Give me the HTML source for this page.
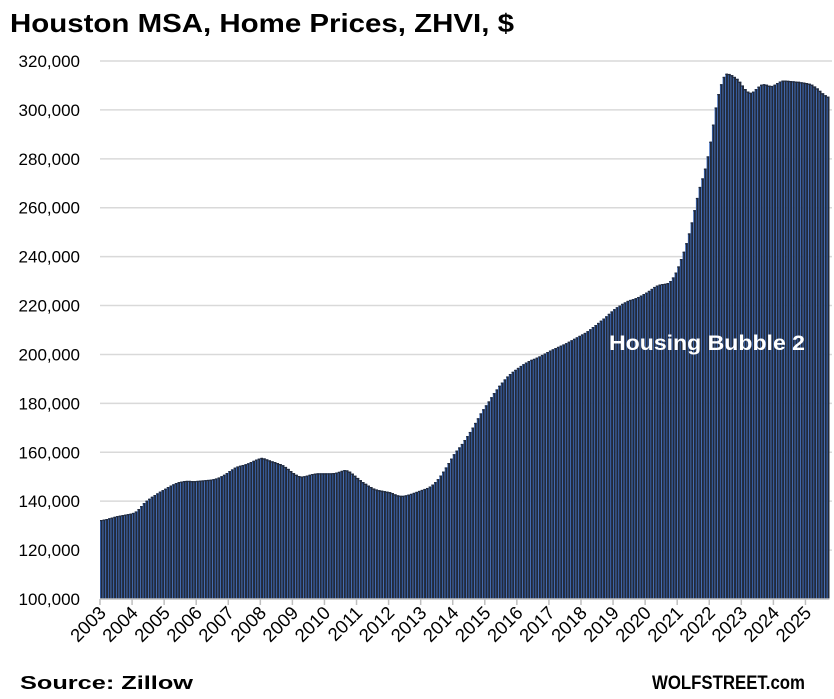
<!DOCTYPE html>
<html><head><meta charset="utf-8"><style>
body{margin:0;background:#fff;}
svg{display:block;font-family:"Liberation Sans",Calibri,sans-serif;}
</style></head><body>
<svg id="chart" width="834" height="699" viewBox="0 0 834 699">
<text x="10" y="32" font-size="26" font-weight="bold" fill="#000" textLength="504" lengthAdjust="spacingAndGlyphs">Houston MSA, Home Prices, ZHVI, $</text>
<g id="grid"></g><g id="bars"></g><g id="axes"></g>
<text x="609" y="350" font-size="21" font-weight="bold" fill="#fff" textLength="196" lengthAdjust="spacingAndGlyphs">Housing Bubble 2</text>
<text x="20" y="689" font-size="18" font-weight="bold" fill="#000" textLength="173" lengthAdjust="spacingAndGlyphs">Source: Zillow</text>
<text x="652" y="689" font-size="19" font-weight="bold" fill="#000" textLength="153" lengthAdjust="spacingAndGlyphs">WOLFSTREET.com</text>
</svg>
<script>
const yTicks=[100000,120000,140000,160000,180000,200000,220000,240000,260000,280000,300000,320000];
const years=["2003","2004","2005","2006","2007","2008","2009","2010","2011","2012","2013","2014","2015","2016","2017","2018","2019","2020","2021","2022","2023","2024","2025"];
const prices=[
132.3,132.5,132.7,133,133.3,133.6,133.9,134.1,134.3,134.5,134.7,134.9,
135.2,135.8,136.8,138,139.2,140.2,141,141.8,142.5,143.2,143.9,144.5,
145.1,145.8,146.4,146.9,147.4,147.8,148,148.2,148.3,148.3,148.2,148.2,
148.3,148.4,148.5,148.6,148.7,148.8,149,149.3,149.7,150.2,150.8,151.5,
152.3,153,153.7,154.2,154.5,154.8,155.1,155.5,156,156.5,157,157.4,
157.7,157.5,157.1,156.7,156.3,156,155.6,155.2,154.7,154,153.2,152.3,
151.5,150.8,150.3,150.1,150.2,150.5,150.8,151.1,151.3,151.4,151.4,151.4,
151.4,151.4,151.4,151.5,151.7,152,152.4,152.7,152.6,152.1,151.3,150.4,
149.5,148.6,147.8,147.1,146.4,145.8,145.2,144.8,144.5,144.3,144.1,143.9,
143.7,143.3,142.8,142.4,142.2,142.2,142.4,142.7,143,143.4,143.8,144.2,
144.6,145,145.4,146,146.8,147.8,149,150.5,152.1,153.8,155.6,157.4,
159.2,160.7,162,163.4,165,166.6,168.3,170.1,172,173.9,175.9,177.6,
179.2,180.8,182.5,184.2,185.7,187.2,188.5,189.8,191,192,192.9,193.7,
194.5,195.3,196,196.7,197.3,197.8,198.2,198.7,199.2,199.8,200.4,201,
201.6,202.1,202.6,203.1,203.6,204.1,204.6,205.2,205.8,206.4,207,207.6,
208.2,208.8,209.5,210.3,211.2,212,212.9,213.8,214.7,215.6,216.6,217.6,
218.5,219.3,220,220.7,221.3,221.9,222.3,222.6,223,223.5,224.1,224.7,
225.3,226,226.8,227.6,228.2,228.6,228.8,228.9,229.2,230,231.5,233.5,
236,239,242,245.5,249.5,254,259,264,268.5,272,276,281,
287,294,301,306.5,310.5,313.5,314.8,314.7,314.2,313.5,312.7,311.5,
310,308.5,307.5,307,307.5,308.5,309.5,310.3,310.5,310.3,309.9,309.8,
310.3,311,311.6,312,312,311.9,311.8,311.7,311.6,311.5,311.3,311.2,
311,310.7,310.3,309.6,308.8,307.8,306.8,306,305.4];
const NS="http://www.w3.org/2000/svg";
const X0=100,X1=829.5,Y0=599,YMIN=100000,YMAX=320000,YTOP=61;
const bw=(X1-X0)/prices.length;
function yScale(v){return Y0-(v-YMIN)/(YMAX-YMIN)*(Y0-YTOP);}
function xScale(i){return X0+i*bw;}
function mk(t,a,p){const e=document.createElementNS(NS,t);for(const k in a)e.setAttribute(k,a[k]);p.appendChild(e);return e;}
const grid=document.getElementById('grid'),bars=document.getElementById('bars'),axes=document.getElementById('axes');
yTicks.forEach(v=>{const y=yScale(v);
 if(v>YMIN){const l=mk('line',{x1:X0,x2:832,y1:y,y2:y,stroke:'#d9d9d9','stroke-width':1.5},grid);
 
 }
 const t=mk('text',{x:80,y:y+6,'font-size':17,'text-anchor':'end',fill:'#000'},axes);
 t.textContent=v.toLocaleString('en-US');
 
 
});
prices.forEach((p,i)=>{const x=xScale(i),y=yScale(p*1000);
 const g=mk('g',{},bars);
 
 
 mk('rect',{x:x,y:y,width:bw,height:Y0-y,fill:'#3b6bc0'},g);
 mk('rect',{x:x+0.75,y:y,width:bw-0.75,height:Y0-y,fill:'#222a3a'},g);
 mk('rect',{x:x,y:y,width:bw,height:1.2,fill:'#222a3a'},g);
});
const ax=mk('line',{x1:X0,x2:X1,y1:Y0,y2:Y0,stroke:'#bfbfbf','stroke-width':1.5},axes);


years.forEach((yr,i)=>{const x=xScale(i*12);
 mk('line',{x1:x,x2:x,y1:Y0,y2:Y0+6,stroke:'#bfbfbf','stroke-width':1.5},axes);
 const t=mk('text',{x:x+7,y:Y0+15,'font-size':18.5,'text-anchor':'end',fill:'#000',transform:`rotate(-45 ${x+7} ${Y0+15})`},axes);
 t.textContent=yr;
 
 
});
</script>
</body></html>
